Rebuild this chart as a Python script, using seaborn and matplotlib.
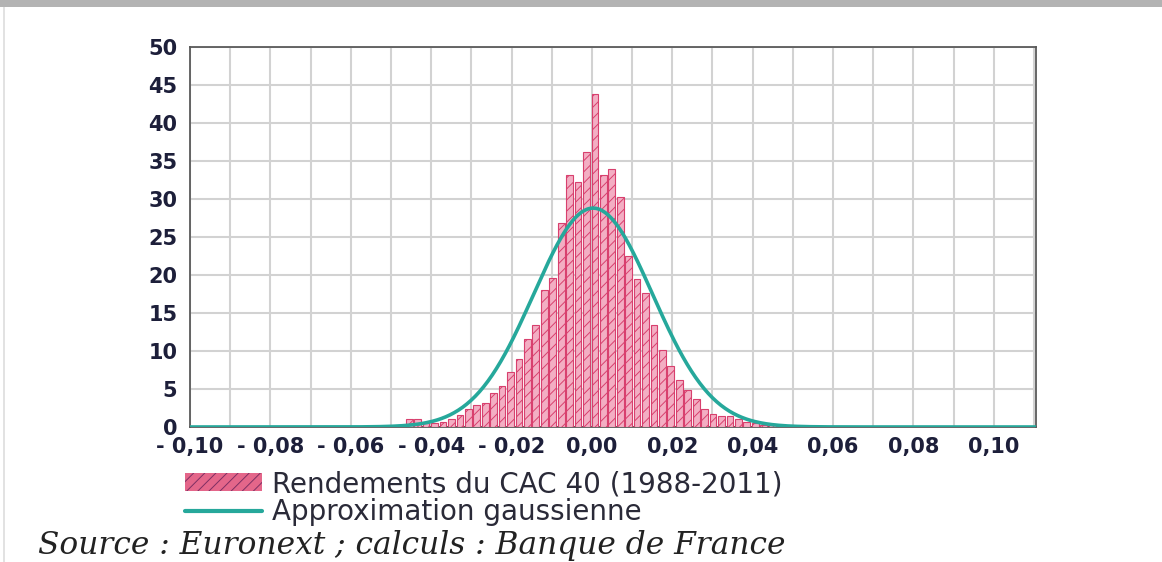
import numpy as np
import pandas as pd
import matplotlib
matplotlib.use("Agg")
import matplotlib.pyplot as plt
from matplotlib.patches import Patch, Rectangle
from matplotlib.lines import Line2D
from matplotlib.ticker import FixedLocator, MultipleLocator
import seaborn as sns

# Daily CAC 40 returns, density per bin (bins of ~0.0021, centred at 0.00075 + k*0.0021)
bin_index = list(range(-22, 22))
density = [1.1, 1.1, 0.5, 0.5, 0.7, 1.1, 1.6, 2.4, 2.9, 3.2,
           4.5, 5.4, 7.3, 9.0, 11.6, 13.4, 18.0, 19.6, 26.8, 33.1,
           32.2, 36.2, 43.8, 33.1, 33.9, 30.3, 22.5, 19.5, 17.6, 13.4,
           10.1, 8.0, 6.2, 4.9, 3.7, 2.4, 1.7, 1.4, 1.4, 1.0,
           0.7, 0.5, 0.3, 0.2]
bin_width = 0.0021
bin_origin = 0.00075

# Gaussian approximation parameters
gauss_mu = 0.0003
gauss_sigma = 0.0148
gauss_peak = 28.8

x_ticks = [-0.10, -0.08, -0.06, -0.04, -0.02, 0.00, 0.02, 0.04, 0.06, 0.08, 0.10]
x_labels = ["- 0,10", "- 0,08", "- 0,06", "- 0,04", "- 0,02",
            "0,00", "0,02", "0,04", "0,06", "0,08", "0,10"]
y_ticks = [0, 5, 10, 15, 20, 25, 30, 35, 40, 45, 50]
y_labels = ["0", "5", "10", "15", "20", "25", "30", "35", "40", "45", "50"]

label_hist = "Rendements du CAC 40 (1988-2011)"
label_gauss = "Approximation gaussienne"
source_text = "Source : Euronext ; calculs : Banque de France"

sns.set_style("white")
plt.rcParams["font.family"] = ["DejaVu Sans"]
plt.rcParams["hatch.linewidth"] = 0.7

W, H = 1162, 562
fig = plt.figure(figsize=(W / 100, H / 100), dpi=100)
fig.patch.set_facecolor("white")

# screenshot frame: grey band on top, thin light rule at the left
fig.patches.append(Rectangle((0, 1 - 7 / H), 1, 7 / H, transform=fig.transFigure,
                             facecolor="#b3b3b3", edgecolor="none", zorder=0))
fig.patches.append(Rectangle((3 / W, 0), 1.5 / W, 1 - 7 / H, transform=fig.transFigure,
                             facecolor="#e2e2e2", edgecolor="none", zorder=0))

left, right, top, bottom = 190, 1036, 47, 427
ax = fig.add_axes([left / W, 1 - bottom / H, (right - left) / W, (bottom - top) / H])

centers = [bin_origin + k * bin_width for k in bin_index]
edges = [c - bin_width / 2 for c in centers] + [centers[-1] + bin_width / 2]
hist_df = pd.DataFrame({"ret": centers, "dens": density})

bar_face = "#f3aec3"
bar_edge = "#d8406e"
sns.histplot(data=hist_df, x="ret", weights="dens", bins=edges, stat="count",
             shrink=0.8, element="bars", ax=ax, color=bar_face, alpha=1.0)
for p in ax.patches:
    p.set_facecolor(bar_face)
    p.set_edgecolor(bar_edge)
    p.set_linewidth(0.8)
    p.set_hatch("///")
    p.set_zorder(3)

xs = np.linspace(-0.10, 0.1105, 600)
gauss_df = pd.DataFrame({"ret": xs,
                         "g": gauss_peak * np.exp(-0.5 * ((xs - gauss_mu) / gauss_sigma) ** 2)})
teal = "#26a89b"
sns.lineplot(data=gauss_df, x="ret", y="g", ax=ax, color=teal, linewidth=2.6, zorder=4)

ax.set_xlim(-0.10, 0.1105)
ax.set_ylim(0, 50)
ax.xaxis.set_major_locator(FixedLocator(x_ticks))
ax.set_xticklabels(x_labels)
ax.xaxis.set_minor_locator(MultipleLocator(0.01))
ax.yaxis.set_major_locator(FixedLocator(y_ticks))
ax.set_yticklabels(y_labels)
ax.set_xlabel("")
ax.set_ylabel("")

ax.grid(True, which="both", axis="x", color="#d2d2d2", linewidth=1.5, zorder=0)
ax.grid(True, which="major", axis="y", color="#d2d2d2", linewidth=1.5, zorder=0)
ax.set_axisbelow(True)
for s in ax.spines.values():
    s.set_visible(True)
    s.set_color("#5a5a5a")
    s.set_linewidth(1.3)

tick_color = "#1d1f3a"
ax.tick_params(axis="both", which="both", length=0, colors=tick_color)
ax.tick_params(axis="x", pad=7)
ax.tick_params(axis="y", pad=9)
for lab in ax.get_xticklabels() + ax.get_yticklabels():
    lab.set_fontsize(15)
    lab.set_fontweight("bold")
    lab.set_color(tick_color)

handles = [Patch(facecolor="#e4668a", edgecolor="#7e2f63", hatch="///", linewidth=0),
           Line2D([0], [0], color=teal, linewidth=3)]
fig.legend(handles, [label_hist, label_gauss], loc="upper left",
           bbox_to_anchor=(185 / W, 1 - 470 / H), frameon=False,
           fontsize=20, handlelength=2.77, handleheight=0.6, handletextpad=0.36,
           labelspacing=0.0, borderpad=0, borderaxespad=0, labelcolor="#2a2a38")

fig.text(38 / W, 1 - 554 / H, source_text, fontsize=22.5, style="italic",
         family="DejaVu Serif", color="#222222", ha="left", va="baseline")

fig.savefig("out.png", dpi=100, facecolor="white")
